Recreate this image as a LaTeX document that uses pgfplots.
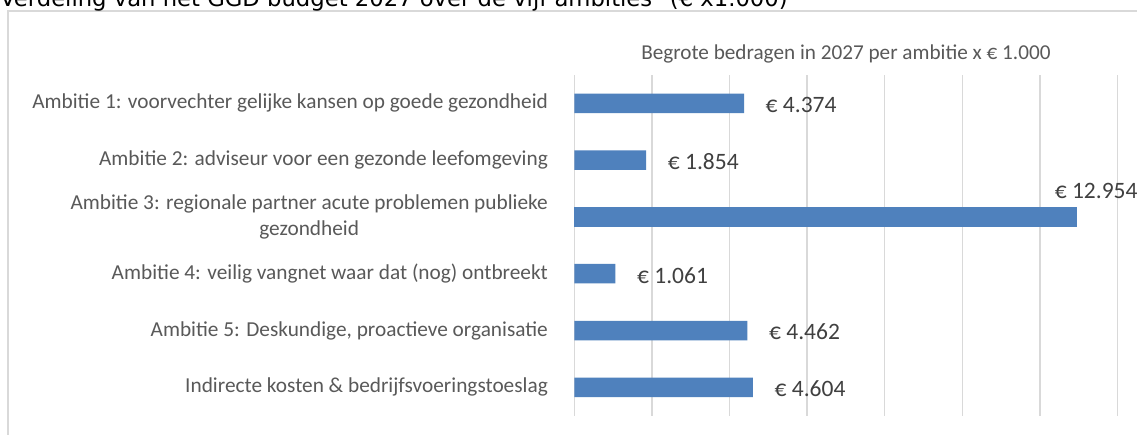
\documentclass[border=0pt]{standalone}
\usepackage{pgfplots}
\pgfplotsset{compat=1.18}
\usepackage{pgfplotstable}
\usepackage{fontspec}
\setmainfont{Carlito}
\newfontfamily\dejavu{DejaVu Sans}
\definecolor{barblue}{HTML}{4F81BD}
\definecolor{gridgray}{HTML}{D9D9D9}
\definecolor{labgray}{HTML}{595959}
\definecolor{datagray}{HTML}{404040}

\pgfplotstableread[col sep=comma]{
y,x,label
5,4374,€ 4.374
4,1854,€ 1.854
2,1061,€ 1.061
1,4462,€ 4.462
0,4604,€ 4.604
}\budgetA
\pgfplotstableread[col sep=comma]{
y,x,label
3,12954,€ 12.954
}\budgetB

\begin{document}
\begin{tikzpicture}[x=1pt,y=1pt]
\useasboundingbox (0,0) rectangle (1137,434);
\clip (0,0) rectangle (1137,434);
\fill[white] (0,0) rectangle (1137,434);
\draw[gridgray, line width=1.5pt] (8,-5) -- (8,423) -- (1145,423);
\node[anchor=base west, inner sep=0pt, font=\dejavu\fontsize{22.7}{27}\selectfont] at (0,427) {Verdeling van het GGD budget 2027 over de vijf ambities" (€ x1.000)};
\begin{axis}[
  at={(574.3pt,18.3pt)}, anchor=south west,
  scale only axis, width=543.2pt, height=340.7pt,
  xbar, bar width=19.5pt, bar shift=0pt,
  xmin=0, xmax=14000, ymin=-0.5, ymax=5.5,
  xtick={0,2000,...,14000}, xticklabels={}, scaled x ticks=false,
  ytick={0,1,2,3,4,5},
  yticklabels={{Indirecte kosten \& bedrijfsvoeringstoeslag},
               {Ambitie 5: Deskundige, proactieve organisatie},
               {Ambitie 4: veilig vangnet waar dat (nog) ontbreekt},
               {Ambitie 3: regionale partner acute problemen publieke\\gezondheid},
               {Ambitie 2: adviseur voor een gezonde leefomgeving},
               {Ambitie 1: voorvechter gelijke kansen op goede gezondheid}},
  xmajorgrids, ymajorgrids=false,
  grid style={gridgray, line width=1.3pt},
  axis line style={draw=none},
  major tick length=0pt,
  yticklabel style={anchor=east, inner sep=0pt, xshift=-26.3pt, align=center, text=labgray, font=\fontsize{21.3}{26}\selectfont},
  title={Begrote bedragen in 2027 per ambitie x € 1.000},
  title style={at={(0.5,1)}, anchor=base, yshift=10pt, inner sep=0pt, text=labgray, font=\fontsize{21.2}{25}\selectfont},
  clip=false,
  point meta=explicit symbolic,
  nodes near coords,
]
\addplot[fill=barblue, draw=none,
  every node near coord/.append style={anchor=west, inner sep=0pt, xshift=21.5pt, yshift=-1.6pt, text=datagray, font=\fontsize{23.5}{28}\selectfont}]
  table[x=x, y=y, meta=label]{\budgetA};
\addplot[fill=barblue, draw=none,
  every node near coord/.append style={anchor=west, inner sep=0pt, xshift=-22.3pt, yshift=25.5pt, text=datagray, font=\fontsize{23.5}{28}\selectfont}]
  table[x=x, y=y, meta=label]{\budgetB};
\end{axis}
\end{tikzpicture}
\end{document}
